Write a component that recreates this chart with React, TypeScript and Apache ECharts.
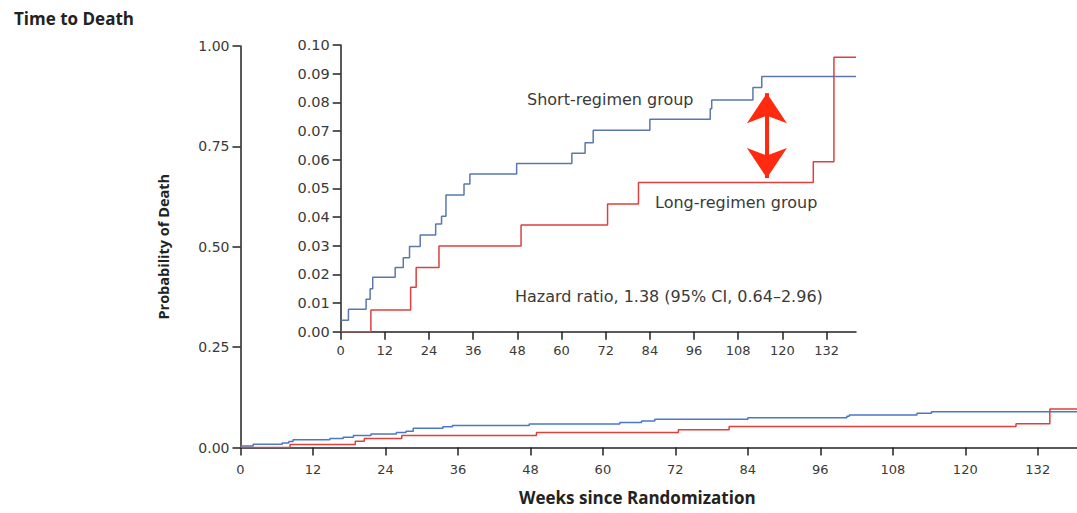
import React, { useEffect, useRef } from "react";
import * as echarts from "echarts";

const shortWeeks = [0, 2.1, 6.9, 8.0, 8.7, 14.8, 17.0, 18.7, 21.6, 25.8, 27.4, 28.6, 33.5, 35.1, 47.8, 62.8, 66.4, 68.6, 84.0, 100.4, 100.8, 112.0, 114.4, 140];
const shortProb = [0.004, 0.0078, 0.0113, 0.015, 0.019, 0.0224, 0.0258, 0.0297, 0.0337, 0.0376, 0.0403, 0.0477, 0.0515, 0.055, 0.0587, 0.0622, 0.0659, 0.0703, 0.0741, 0.0778, 0.0808, 0.0852, 0.089, 0.089];

const longWeeks = [0, 8.2, 19.0, 20.5, 26.7, 49.0, 72.5, 80.9, 128.4, 134.0, 140];
const longProb = [0, 0.0076, 0.0155, 0.0224, 0.0299, 0.0372, 0.0445, 0.052, 0.0593, 0.0957, 0.0957];

const mainYTicks = [0, 0.25, 0.5, 0.75, 1.0];
const weekTickInterval = 12;
const insetYTickInterval = 0.01;

const arrowWeek = 115.8;
const arrowTop = 0.0832;
const arrowBottom = 0.0536;

const FONT = "'Open Sans', 'Noto Sans', sans-serif";
const TFONT = "'DejaVu Sans', 'Noto Sans', sans-serif";
const TXT = "#3a3a3a";
const AXIS = "#222";

export default function App() {
  const ref = useRef<HTMLDivElement>(null);
  useEffect(() => {
    const chart = echarts.init(ref.current!, null, { renderer: "svg" });
    const shortData = shortWeeks.map((w, i) => [w, shortProb[i]]);
    const longData = longWeeks.map((w, i) => [w, longProb[i]]);
    const axisCommon = {
      axisLine: { show: true, onZero: false, lineStyle: { color: AXIS, width: 1.5 } },
      axisTick: { show: true, length: 8, lineStyle: { color: AXIS, width: 1.5 } },
      splitLine: { show: false },
    };
    const xlabel = { color: TXT, fontFamily: TFONT, fontSize: 13 };
    chart.setOption({
      animation: false,
      backgroundColor: "#fff",
      title: {
        text: "Time to Death",
        left: 9,
        top: 5,
        textStyle: { fontFamily: FONT, fontSize: 17, fontWeight: "bold", color: "#222" },
      },
      grid: [
        { left: 240.5, top: 46, width: 836.5, height: 401.5 },
        { left: 340.7, top: 45, width: 515.3, height: 286.7 },
      ],
      xAxis: [
        {
          type: "value", gridIndex: 0, min: 0, max: 138.5, interval: weekTickInterval,
          ...axisCommon,
          axisLabel: { ...xlabel, margin: 15, showMaxLabel: false },
        },
        {
          type: "value", gridIndex: 1, min: 0, max: 140, interval: weekTickInterval,
          ...axisCommon,
          axisLabel: { ...xlabel, margin: 12, showMaxLabel: false },
        },
      ],
      yAxis: [
        {
          type: "value", gridIndex: 0, min: mainYTicks[0], max: mainYTicks[mainYTicks.length - 1], interval: 0.25,
          ...axisCommon,
          axisLabel: { color: TXT, fontFamily: TFONT, fontSize: 14, margin: 11, formatter: (v: number) => v.toFixed(2) },
          name: "Probability of Death",
          nameLocation: "middle",
          nameGap: 70,
          nameTextStyle: { fontFamily: FONT, fontSize: 14.5, fontWeight: "bold", color: "#222" },
        },
        {
          type: "value", gridIndex: 1, min: 0, max: 0.1, interval: insetYTickInterval,
          ...axisCommon,
          axisLabel: { color: TXT, fontFamily: TFONT, fontSize: 14.5, margin: 11, formatter: (v: number) => v.toFixed(2) },
        },
      ],
      series: [
        {
          type: "line", xAxisIndex: 0, yAxisIndex: 0, step: "end", data: shortData, showSymbol: false,
          lineStyle: { color: "#4a78c8", width: 1.5 }, z: 3,
        },
        {
          type: "line", xAxisIndex: 0, yAxisIndex: 0, step: "end", data: longData, showSymbol: false,
          lineStyle: { color: "#e0403a", width: 1.5 }, z: 3,
        },
        {
          type: "line", xAxisIndex: 1, yAxisIndex: 1, step: "end", data: shortData, showSymbol: false,
          lineStyle: { color: "#5a78ac", width: 1.5 }, z: 3,
        },
        {
          type: "line", xAxisIndex: 1, yAxisIndex: 1, step: "end", data: longData, showSymbol: false,
          lineStyle: { color: "#dc4040", width: 1.5 }, z: 3,
          markLine: {
            silent: true,
            symbol: ["arrow", "arrow"],
            symbolSize: [30, 30],
            label: { show: false },
            lineStyle: { color: "#ff2a10", width: 4, type: "solid" },
            data: [[{ coord: [arrowWeek, arrowTop] }, { coord: [arrowWeek, arrowBottom] }]],
          },
        },
      ],
      graphic: [
        {
          type: "text", left: 527, top: 91,
          style: { text: "Short-regimen group", fontFamily: TFONT, fontSize: 16, fill: TXT },
        },
        {
          type: "text", left: 655, top: 194,
          style: { text: "Long-regimen group", fontFamily: TFONT, fontSize: 16, fill: TXT },
        },
        {
          type: "text", left: 515, top: 288,
          style: { text: "Hazard ratio, 1.38 (95% CI, 0.64–2.96)", fontFamily: TFONT, fontSize: 16, fill: TXT },
        },
        {
          type: "text", left: 519, top: 489,
          style: { text: "Weeks since Randomization", fontFamily: FONT, fontSize: 17, fontWeight: "bold", fill: "#222" },
        },
      ],
    });
    return () => chart.dispose();
  }, []);
  return <div ref={ref} style={{ position: "fixed", left: 0, top: 0, width: 1077, height: 513 }} />;
}
